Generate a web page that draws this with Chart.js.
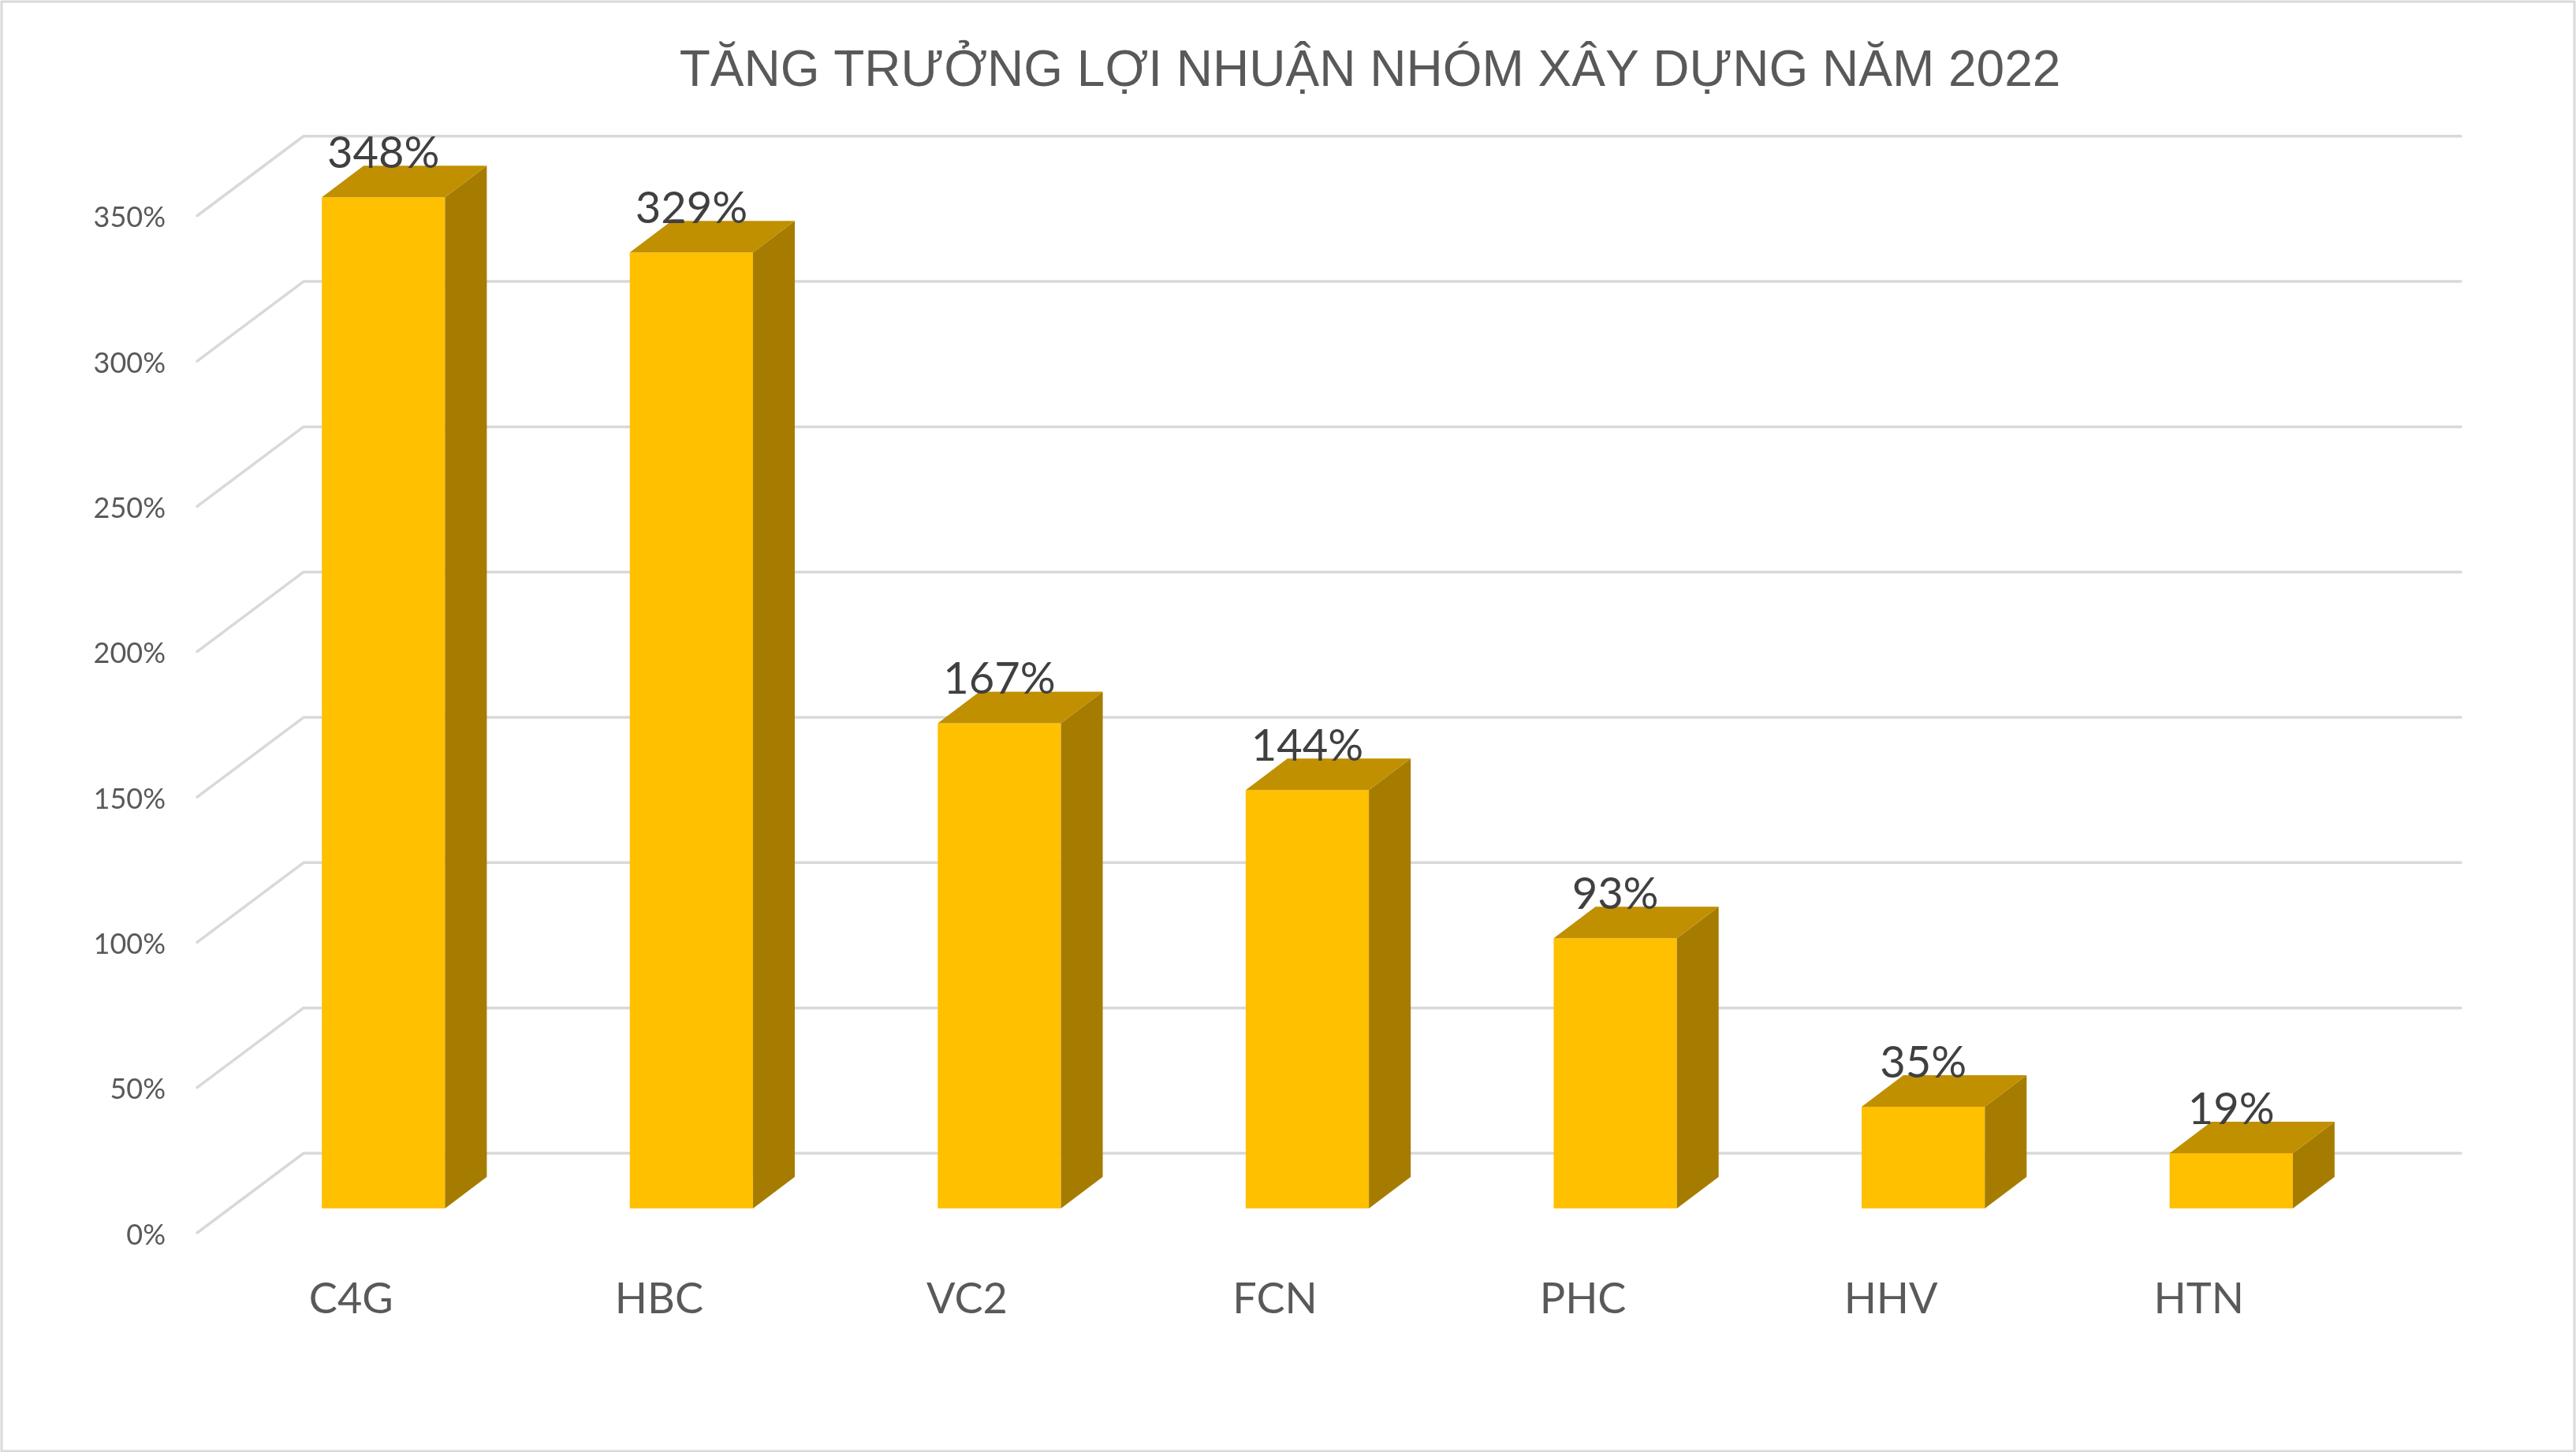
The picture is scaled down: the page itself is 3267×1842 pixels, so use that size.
<!DOCTYPE html>
<html lang="vi">
<head>
    <meta charset="UTF-8">
    <title>Tăng trưởng lợi nhuận nhóm xây dựng năm 2022</title>
    <script src="https://cdn.jsdelivr.net/npm/chart.js"></script>
    <style>
        html, body { margin: 0; padding: 0; background: #fff; }
        canvas { display: block; }
    </style>
</head>
<body>
    <canvas id="growthChart" width="3267" height="1842"></canvas>

    <script>
        const chartTitle = 'TĂNG TRƯỞNG LỢI NHUẬN NHÓM XÂY DỰNG NĂM 2022';
        const categories = ['C4G', 'HBC', 'VC2', 'FCN', 'PHC', 'HHV', 'HTN'];
        const growth = [348, 329, 167, 144, 93, 35, 19];
        const yTicks = [0, 50, 100, 150, 200, 250, 300, 350];

        // Fake 3D look, the bars stand a bit behind the plane of the tick labels
        const FLOOR_SHIFT = 8.4;  // in % units, between tick plane and bar plane
        const BAR_DX = 53, BAR_DY = 40;
        const WALL_X = 385, WALL_RIGHT = 3121, WALL_DY = 101, AXIS_X = 250;

        // Grid lines on the back wall and border round the picture
        const wallPlugin = {
            id: 'wall',
            afterLayout(chart) {
                // tick labels stand left of the padding that centres the title, don't clip them
                chart.scales.yTick.left = 0;
            },
            beforeDraw(chart) {
                const c = chart.ctx;
                c.save();
                c.fillStyle = '#ffffff';
                c.fillRect(0, 0, chart.width, chart.height);
                c.strokeStyle = '#d9d9d9';
                c.lineWidth = 3;
                c.strokeRect(2, 2, chart.width - 4, chart.height - 3);
                c.restore();
            },
            beforeDatasetsDraw(chart) {
                const c = chart.ctx;
                const scale = chart.scales.yTick;
                c.save();
                c.strokeStyle = '#d9d9d9';
                c.lineCap = 'round';
                c.lineJoin = 'round';
                c.lineWidth = 3.5;
                scale.ticks.forEach(function(tick) {
                    const p = scale.getPixelForValue(tick.value);
                    c.beginPath();
                    c.moveTo(AXIS_X, p);
                    c.lineTo(WALL_X, p - WALL_DY);
                    c.lineTo(WALL_RIGHT, p - WALL_DY);
                    c.stroke();
                });
                c.restore();
            }
        };

        // Side and top faces of each bar, then the value labels
        const boxPlugin = {
            id: 'box',
            afterDatasetsDraw(chart) {
                const c = chart.ctx;
                const bars = chart.getDatasetMeta(0).data;
                c.save();
                bars.forEach(function(bar) {
                    const left = bar.x - bar.width / 2;
                    const right = bar.x + bar.width / 2;

                    c.fillStyle = '#a67c00';
                    c.beginPath();
                    c.moveTo(right, bar.y);
                    c.lineTo(right + BAR_DX, bar.y - BAR_DY);
                    c.lineTo(right + BAR_DX, bar.base - BAR_DY);
                    c.lineTo(right, bar.base);
                    c.closePath();
                    c.fill();

                    c.fillStyle = '#c09000';
                    c.beginPath();
                    c.moveTo(left, bar.y);
                    c.lineTo(left + BAR_DX, bar.y - BAR_DY);
                    c.lineTo(right + BAR_DX, bar.y - BAR_DY);
                    c.lineTo(right, bar.y);
                    c.closePath();
                    c.fill();
                });

                c.fillStyle = '#404040';
                c.font = '56px Lato';
                c.textAlign = 'center';
                c.textBaseline = 'middle';
                bars.forEach(function(bar, i) {
                    c.fillText(growth[i] + '%', bar.x, bar.y - 55);
                });
                c.restore();
            }
        };

        document.addEventListener('DOMContentLoaded', function() {
            var ctx = document.getElementById('growthChart').getContext('2d');
            new Chart(ctx, {
                type: 'bar',
                data: {
                    labels: categories,
                    datasets: [{
                        data: growth,
                        yAxisID: 'y',
                        backgroundColor: '#ffc000',
                        borderWidth: 0,
                        barPercentage: 0.4,
                        categoryPercentage: 1
                    }]
                },
                plugins: [wallPlugin, boxPlugin],
                options: {
                    responsive: false,
                    animation: false,
                    devicePixelRatio: 1,
                    layout: { padding: { left: 208, right: 0, top: 0, bottom: 0 } },
                    plugins: {
                        legend: { display: false },
                        tooltip: { enabled: false },
                        title: {
                            display: true,
                            text: chartTitle,
                            color: '#595959',
                            font: { family: 'Liberation Sans', size: 64, weight: 'normal' },
                            padding: { top: 53, bottom: 113 }
                        }
                    },
                    scales: {
                        x: {
                            grid: { display: false },
                            border: { display: false },
                            ticks: {
                                color: '#595959',
                                font: { family: 'Lato', size: 54 },
                                labelOffset: -41,
                                padding: 44,
                                maxRotation: 0
                            },
                            afterFit: function(scale) { scale.height = 278; }
                        },
                        // scale of the bars, only kept on the right to hold the margin
                        y: {
                            position: 'right',
                            min: -FLOOR_SHIFT,
                            max: 350,
                            grid: { display: false },
                            border: { display: false },
                            ticks: { display: false },
                            afterFit: function(scale) { scale.width = 242; }
                        },
                        // scale of the tick labels, same size as y but lower down
                        yTick: {
                            position: 'left',
                            min: 0,
                            max: 350 + FLOOR_SHIFT,
                            grid: { display: false },
                            border: { display: false },
                            afterBuildTicks: function(scale) {
                                scale.ticks = yTicks.map(function(v) { return { value: v }; });
                            },
                            ticks: {
                                color: '#595959',
                                font: { family: 'Lato', size: 36 },
                                padding: 73,
                                labelOffset: 3,
                                callback: function(value) { return value + '%'; }
                            },
                            afterFit: function(scale) { scale.width = 83; }
                        }
                    }
                }
            });
        });
    </script>
</body>
</html>
